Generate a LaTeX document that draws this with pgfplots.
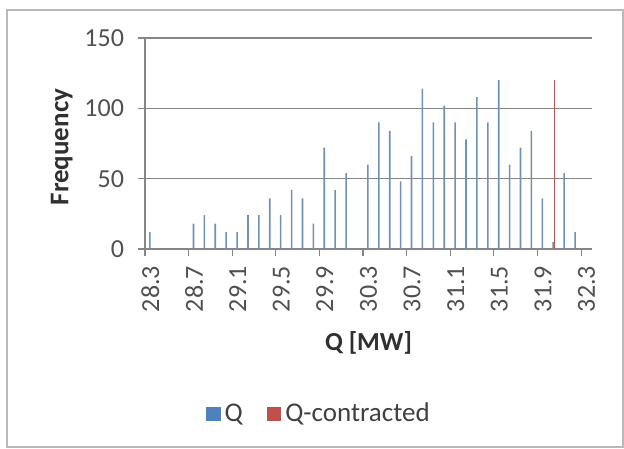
\documentclass[border=0pt]{standalone}
\usepackage{pgfplots}
\pgfplotsset{compat=1.18}
\usepackage{fontspec}
\setmainfont{Carlito}
\definecolor{qblue}{RGB}{79,129,189}
\definecolor{qbar}{RGB}{110,145,182}
\definecolor{qred}{RGB}{192,80,77}
\definecolor{axgray}{RGB}{134,134,134}
\definecolor{txtgray}{RGB}{80,80,80}
\begin{document}
\begin{tikzpicture}
\path[use as bounding box] (0,0) rectangle (312pt,224pt);
\draw[gray!55, line width=0.8pt] (3.5pt,0.5pt) rectangle (311.5pt,219pt);
\begin{axis}[
  at={(72.5pt,99.5pt)}, anchor=south west,
  scale only axis, width=223.5pt, height=105.5pt,
  xmin=-0.5, xmax=40.5, ymin=0, ymax=150,
  axis x line*=bottom, axis y line*=left,
  axis line style={axgray, line width=0.6pt, -},
  tick align=outside, major tick length=3.5pt,
  tick style={axgray, line width=0.6pt},
  ytick={0,50,100,150},
  ymajorgrids, grid style={axgray, line width=0.6pt},
  xtick={-0.5,3.5,...,39.5},
  xticklabels={},
  extra x ticks={0,4,...,40},
  extra x tick labels={28.3,28.7,29.1,29.5,29.9,30.3,30.7,31.1,31.5,31.9,32.3},
  extra x tick style={major tick length=0pt, tick style={draw=none}, grid=none},
  x tick label style={rotate=90, anchor=east, xshift=-5pt},
  y tick label style={xshift=-3.5pt},
  tick label style={font=\fontsize{13}{15}\selectfont, text=txtgray},
  /pgf/number format/assume math mode=true,
  ylabel={\textbf{Frequency}},
  ylabel style={font=\fontsize{13.5}{15}\selectfont, text=txtgray!60!black, at={(axis description cs:-0.186,0.483)}, anchor=center},
  xlabel={\textbf{Q [MW]}},
  xlabel style={font=\fontsize{13}{15}\selectfont, text=txtgray!60!black, at={(axis description cs:0.5,0)}, anchor=center, yshift=-47pt},
  legend style={at={(axis description cs:0.3915,-0.782)}, anchor=center, draw=none, fill=none,
    font=\fontsize{13.5}{15}\selectfont, text=txtgray!80!black, legend columns=2,
    /tikz/every even column/.append style={column sep=10pt}},
  clip=false,
]
\addplot[ybar, bar width=0.8pt, bar shift=-0.3pt, fill=qbar, draw=none,
  legend image code/.code={\fill[qblue] (0pt,-3.6pt) rectangle (7.2pt,3.6pt);}]
coordinates {
(0,12) (1,0) (2,0) (3,0) (4,18) (5,24) (6,18) (7,12) (8,12) (9,24)
(10,24) (11,36) (12,24) (13,42) (14,36) (15,18) (16,72) (17,42) (18,54) (19,0)
(20,60) (21,90) (22,84) (23,48) (24,66) (25,114) (26,90) (27,102) (28,90) (29,78)
(30,108) (31,90) (32,120) (33,60) (34,72) (35,84) (36,36) (37,5) (38,54) (39,12)
(40,0)
};
\addlegendentry{Q}
\addplot[ybar, bar width=0.8pt, bar shift=0.3pt, fill=qred, draw=none,
  legend image code/.code={\fill[qred] (0pt,-3.6pt) rectangle (7.2pt,3.6pt);}]
coordinates {
(37,120)
};
\addlegendentry{Q-contracted}
\end{axis}
\end{tikzpicture}
\end{document}
